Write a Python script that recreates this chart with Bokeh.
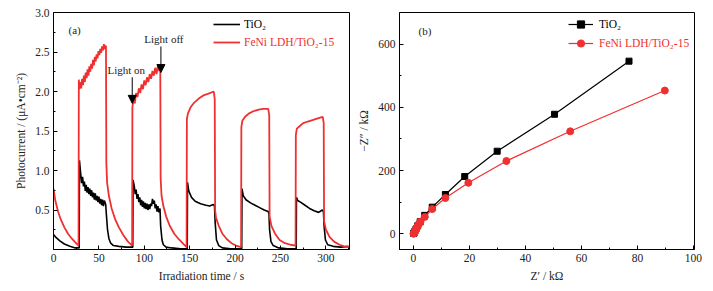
from bokeh.plotting import figure
from bokeh.layouts import row
from bokeh.models import (FixedTicker, PrintfTickFormatter, Legend, LegendItem,
                          Arrow, NormalHead, Label)
from bokeh.embed import file_html
from bokeh.resources import INLINE

FONT = "Liberation Serif"
RED = "#f03030"

# ---------- panel (a): photocurrent vs time ----------
t_tio2 = [0, 3, 7, 12, 18, 24, 28.3,
          28.6, 30, 31, 32, 33, 34, 35, 36, 37, 38, 39, 40, 41, 42, 43, 44, 45, 46, 47, 48,
          49, 50, 51, 52, 53, 54, 55, 56, 57.5,
          58.2, 59.5, 61, 63, 66, 72, 80, 87.3,
          87.6, 89, 90, 91, 92, 93, 94, 95, 96, 97, 98, 99, 100, 101, 102, 103, 104, 105,
          106, 107, 108, 109, 110, 111, 112, 113, 114, 115, 116, 117.3,
          118, 119.5, 121, 124, 130, 140, 147.3,
          147.6, 149, 152, 156, 162, 168, 172, 176, 177.3,
          178, 179.5, 182, 186, 195, 207.3,
          207.6, 209, 212, 217, 222, 227, 232, 236.5, 237.3,
          238, 239.5, 242, 248, 258, 267.3,
          267.6, 269, 272, 277, 282, 287, 292, 296, 297.3,
          298, 299.5, 302, 308, 316, 325]
i_tio2 = [0.19, 0.15, 0.11, 0.07, 0.04, 0.02, 0.02,
          1.13, 0.95, 0.84, 0.92, 0.80, 0.86, 0.74, 0.82, 0.72, 0.79, 0.70, 0.77, 0.68, 0.75,
          0.66, 0.72, 0.63, 0.71, 0.62, 0.68,
          0.60, 0.67, 0.58, 0.64, 0.56, 0.63, 0.55, 0.62, 0.57,
          0.45, 0.25, 0.14, 0.08, 0.05, 0.04, 0.03, 0.03,
          0.88, 0.80, 0.70, 0.76, 0.64, 0.70, 0.60, 0.66, 0.56, 0.63, 0.54, 0.61, 0.52, 0.59,
          0.51, 0.58, 0.50, 0.57,
          0.51, 0.58, 0.55, 0.64, 0.58, 0.62, 0.52, 0.57, 0.48, 0.55, 0.47, 0.52,
          0.30, 0.12, 0.06, 0.03, 0.02, 0.01, 0.01,
          0.85, 0.74, 0.66, 0.61, 0.58, 0.56, 0.55, 0.57, 0.55,
          0.35, 0.12, 0.05, 0.02, 0.01, 0.01,
          0.77, 0.68, 0.63, 0.59, 0.56, 0.53, 0.50, 0.48, 0.45,
          0.25, 0.10, 0.05, 0.02, 0.01, 0.01,
          0.66, 0.62, 0.60, 0.56, 0.52, 0.49, 0.47, 0.50, 0.48,
          0.30, 0.12, 0.06, 0.04, 0.03, 0.04]

t_feni = [0, 2, 5, 8, 12, 16, 20, 24, 27.6,
          27.9, 28.5, 29.5, 30.5, 31.5, 32.5, 33.5, 34.5, 35.5, 36.5, 37.5, 38.5, 39.5, 40.5,
          41.5, 42.5, 43.5, 44.5, 45.5, 46.5, 47.5, 48.5, 49.5, 50.5, 51.5, 52.5, 53.5,
          54.5, 55.5, 56.5, 57.8,
          58.2, 59, 61, 64, 68, 72, 77, 82, 86.6,
          86.9, 88, 89.5, 91, 92.5, 94, 95.5, 97, 98.5, 100, 101.5, 103, 104.5, 106, 107.5,
          109, 110.5, 112, 113.5, 115, 116.5, 117.6,
          118, 119, 121, 124, 128, 133, 138, 143, 146.6,
          146.9, 148, 151, 155, 160, 165, 170, 176.5, 177.6,
          178, 179, 182, 186, 191, 196, 201, 206.6,
          206.9, 208, 211, 215, 220, 226, 231, 236.5, 237.6,
          238, 240, 244, 249, 255, 261, 266.6,
          266.9, 268, 271, 275, 280, 286, 291, 296.5, 297.6,
          298, 300, 304, 309, 315, 320, 325]
i_feni = [0.77, 0.62, 0.48, 0.38, 0.28, 0.20, 0.14, 0.09, 0.05,
          2.15, 2.03, 2.12, 2.04, 2.16, 2.08, 2.20, 2.12, 2.24, 2.17, 2.28, 2.20, 2.32, 2.25,
          2.35, 2.29, 2.40, 2.33, 2.44, 2.38, 2.47, 2.42, 2.51, 2.46, 2.54, 2.49, 2.57,
          2.52, 2.60, 2.54, 2.58,
          1.10, 0.85, 0.68, 0.52, 0.38, 0.28, 0.18, 0.10, 0.05,
          1.80, 1.90, 1.85, 1.98, 1.93, 2.04, 1.98, 2.09, 2.03, 2.14, 2.08, 2.18, 2.12, 2.22, 2.16,
          2.26, 2.20, 2.30, 2.22, 2.33, 2.26, 2.30,
          0.90, 0.68, 0.55, 0.42, 0.30, 0.20, 0.13, 0.07, 0.03,
          1.65, 1.72, 1.80, 1.86, 1.91, 1.95, 1.97, 2.00, 1.90,
          0.50, 0.40, 0.30, 0.20, 0.13, 0.08, 0.05, 0.03,
          1.55, 1.63, 1.68, 1.72, 1.75, 1.77, 1.78, 1.78, 1.70,
          0.42, 0.30, 0.20, 0.12, 0.08, 0.06, 0.05,
          1.45, 1.53, 1.56, 1.60, 1.62, 1.64, 1.66, 1.68, 1.60,
          0.36, 0.25, 0.16, 0.10, 0.06, 0.04, 0.03]

assert len(t_tio2) == len(i_tio2), (len(t_tio2), len(i_tio2))
assert len(t_feni) == len(i_feni), (len(t_feni), len(i_feni))

a_xticks = [0, 50, 100, 150, 200, 250, 300]
a_yticks = [0.5, 1.0, 1.5, 2.0, 2.5, 3.0]

# ---------- panel (b): Nyquist ----------
zr_tio2 = [0.05, 0.2, 0.5, 0.9, 1.5, 2.4, 4.0, 6.7, 11.4, 18.3, 29.9, 50.4, 77.0]
zi_tio2 = [0.5, 3, 8, 15, 25, 38, 58, 84, 124, 181, 261, 378, 546]
zr_feni = [0.0, 0.1, 0.25, 0.4, 0.6, 0.8, 1.0, 1.3, 1.6, 2.0, 2.5, 4.0, 6.7, 11.4, 19.6, 33.2, 56.0, 89.8]
zi_feni = [0, 1, 3, 6, 9, 12, 16, 21, 26, 32, 38, 53, 78, 113, 161, 230, 324, 453]

b_xticks = [0, 20, 40, 60, 80, 100]
b_yticks = [0, 200, 400, 600]


def style(p):
    p.outline_line_color = "black"
    p.outline_line_width = 1
    p.xgrid.visible = False
    p.ygrid.visible = False
    p.background_fill_color = "white"
    p.border_fill_color = "white"
    for ax in (p.xaxis[0], p.yaxis[0]):
        ax.axis_line_color = "black"
        ax.major_tick_in = 4
        ax.major_tick_out = 0
        ax.minor_tick_in = 2
        ax.minor_tick_out = 0
        ax.major_label_text_font = FONT
        ax.major_label_text_font_size = "11.5px"
        ax.major_label_text_color = "#222222"
        ax.axis_label_text_font = FONT
        ax.axis_label_text_font_size = "11.5px"
        ax.axis_label_text_font_style = "normal"
        ax.axis_label_text_color = "#222222"
        ax.major_label_standoff = 4
        ax.axis_label_standoff = 5


p1 = figure(frame_width=296, frame_height=237, x_range=(0, 326), y_range=(0, 3.0),
            min_border_left=53, min_border_right=6, min_border_top=12, min_border_bottom=34,
            output_backend="svg", toolbar_location=None)
style(p1)
p1.xaxis.axis_label = "Irradiation time / s"
p1.yaxis.axis_label = "Photocurrent / (μA•cm⁻²)"
p1.xaxis.ticker = FixedTicker(ticks=a_xticks, minor_ticks=[25, 75, 125, 175, 225, 275, 325])
p1.yaxis.ticker = FixedTicker(ticks=a_yticks, minor_ticks=[0.25, 0.75, 1.25, 1.75, 2.25, 2.75])
p1.yaxis.formatter = PrintfTickFormatter(format="%.1f")

r1 = p1.line(t_tio2, i_tio2, line_color="black", line_width=1.6)
r2 = p1.line(t_feni, i_feni, line_color=RED, line_width=1.8)

lg1 = Legend(items=[LegendItem(label="TiO₂", renderers=[r1])], location=(160, 216),
             label_text_color="black")
lg2 = Legend(items=[LegendItem(label="FeNi LDH/TiO₂-15", renderers=[r2])], location=(160, 198),
             label_text_color=RED)
for lg in (lg1, lg2):
    lg.background_fill_alpha = 0
    lg.border_line_color = None
    lg.padding = 0
    lg.margin = 0
    lg.spacing = 0
    lg.glyph_width = 27
    lg.glyph_height = 18
    lg.label_height = 18
    lg.label_standoff = 4
    lg.label_text_font = FONT
    lg.label_text_font_size = "11.5px"
    p1.add_layout(lg, "center")

p1.add_layout(Label(x=16.5, y=2.78, text="(a)", text_font=FONT, text_font_size="11px",
                    text_baseline="middle", text_align="left", text_color="#222222"))
p1.add_layout(Label(x=59.5, y=2.27, text="Light on", text_font=FONT, text_font_size="11px",
                    text_baseline="middle", text_align="left", text_color="#222222"))
p1.add_layout(Label(x=100, y=2.67, text="Light off", text_font=FONT, text_font_size="11px",
                    text_baseline="middle", text_align="left", text_color="#222222"))
p1.add_layout(Arrow(x_start=86.7, y_start=2.18, x_end=86.7, y_end=1.85, line_width=1,
                    end=NormalHead(size=8, fill_color="black", line_color="black")))
p1.add_layout(Arrow(x_start=118.3, y_start=2.57, x_end=118.3, y_end=2.24, line_width=1,
                    end=NormalHead(size=8, fill_color="black", line_color="black")))

p2 = figure(frame_width=295, frame_height=237, x_range=(-5, 100.4), y_range=(-50, 700),
            min_border_left=44, min_border_right=11, min_border_top=12, min_border_bottom=34,
            output_backend="svg", toolbar_location=None)
style(p2)
p2.xaxis.axis_label = "Z′ / kΩ"
p2.yaxis.axis_label = "−Z″ / kΩ"
p2.xaxis.ticker = FixedTicker(ticks=b_xticks, minor_ticks=[10, 30, 50, 70, 90])
p2.yaxis.ticker = FixedTicker(ticks=b_yticks, minor_ticks=[100, 300, 500])

l1 = p2.line(zr_tio2, zi_tio2, line_color="black", line_width=1.2)
s1 = p2.scatter(zr_tio2, zi_tio2, marker="square", size=6, fill_color="black", line_color="black")
l2 = p2.line(zr_feni, zi_feni, line_color=RED, line_width=1.2)
s2 = p2.scatter(zr_feni, zi_feni, marker="circle", size=7, fill_color=RED, line_color=RED)

lg3 = Legend(items=[LegendItem(label="TiO₂", renderers=[l1, s1])], location=(169, 216),
             label_text_color="black")
lg4 = Legend(items=[LegendItem(label="FeNi LDH/TiO₂-15", renderers=[l2, s2])], location=(169, 197),
             label_text_color=RED)
for lg in (lg3, lg4):
    lg.background_fill_alpha = 0
    lg.border_line_color = None
    lg.padding = 0
    lg.margin = 0
    lg.spacing = 0
    lg.glyph_width = 25
    lg.glyph_height = 18
    lg.label_height = 18
    lg.label_standoff = 6
    lg.label_text_font = FONT
    lg.label_text_font_size = "11.5px"
    p2.add_layout(lg, "center")

p2.add_layout(Label(x=1.8, y=643, text="(b)", text_font=FONT, text_font_size="11px",
                    text_baseline="middle", text_align="left", text_color="#222222"))

layout = row(p1, p2)
open("out.html", "w").write(file_html(layout, INLINE))
